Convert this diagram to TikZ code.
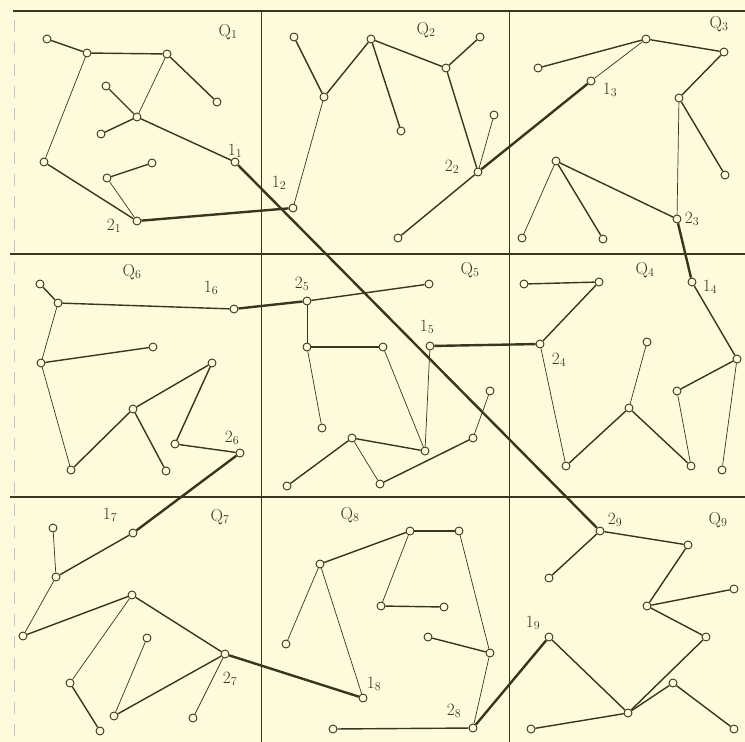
\documentclass[tikz,border=0pt]{standalone}
\definecolor{paper}{HTML}{FDFBDC}
\definecolor{ink}{HTML}{3B3520}
\begin{document}
\begin{tikzpicture}[x=1pt,y=-1pt,
    dot/.style={circle,draw=ink,fill=paper,line width=0.9pt,inner sep=0pt,minimum size=8pt},
    light/.style={draw=ink,line width=0.7pt},
    mid/.style={draw=ink,line width=1.4pt},
    bridge/.style={draw=ink,line width=2.4pt},
    gridline/.style={draw=ink,line width=1.8pt},
    lbl/.style={text=ink,inner sep=0pt,font=\fontsize{17}{19}\selectfont}]
  \fill[paper] (0,0) rectangle (745,742);
  \useasboundingbox (0,0) rectangle (745,742);
  % cell borders
  \draw[gridline] (13,11) -- (745,11);
  \draw[gridline] (10,254) -- (745,254);
  \draw[gridline] (10,497) -- (745,497);
  \draw[draw=ink,line width=0.9pt] (261,11) -- (261,742);
  \draw[draw=ink,line width=0.9pt] (509,11) -- (509,742);
  \draw[draw=ink!30,line width=0.8pt,dash pattern=on 12pt off 10pt] (14,20) -- (14,742);
  % vertices
  \foreach \n/\x/\y in {a1/47/39, a2/87/53, a3/167/54, a4/217/102, a5/106/86, a6/137/117,
      a7/101/134, a8/44/162, a9/152/163, a10/107/178, one1/235/162, two1/137/221,
      b1/294/37, b2/371/39, b3/480/37, b4/446/68, b5/324/97, b6/401/131, b7/494/115,
      two2/478/172, one2/293/208, b8/398/238,
      c1/538/68, c2/646/39, c3/724/52, one3/591/81, c4/679/98, c5/725/175, c6/556/161,
      c7/522/238, c8/603/239, two3/677/219,
      f1/524/284, f2/599/282, two4/540/344, one4/692/282, f3/737/359, f4/647/342,
      f5/629/408, f6/566/466, f7/691/466, f8/677/391, f9/722/470,
      two5/307/301, e1/429/284, e2/307/347, e3/383/347, e4/322/428, one5/430/346,
      e5/425/451, e6/352/438, e7/287/486, e8/380/484, e9/473/438, e10/490/391,
      d1/40/284, d2/58/303, one6/234/309, d3/41/363, d4/153/347, d5/212/363,
      d6/133/409, d7/71/470, d8/166/471, d9/175/444, two6/240/453,
      g1/53/528, one7/133/533, g2/56/577, g3/23/636, g4/132/595, two7/225/654,
      g5/147/638, g6/70/683, g7/100/731, g8/114/716, g9/193/718,
      h1/320/564, h2/410/531, h3/459/531, h4/286/644, h5/381/606, h6/444/607,
      h7/428/637, h8/490/653, one8/363/698, two8/473/728, h9/333/729,
      two9/600/531, i1/688/545, i2/549/578, i3/647/606, i4/734/589, i5/706/637,
      one9/549/637, i6/628/713, i7/673/683, i8/734/729, i9/531/729}
    \node[dot] (\n) at (\x,\y) {};
  % tree edges
  \foreach \u/\v in {a1/a2, a2/a3, a3/a4, a5/a6, a6/a7, a6/one1, a8/two1, a9/a10,
      b1/b5, b5/b2, b2/b6, b2/b4, b4/b3, b4/two2, b8/two2,
      c1/c2, c2/c3, c3/c4, c4/c5, c6/c8, c6/two3,
      f1/f2, f2/two4, f6/f5, f5/f7, f8/f3, f3/one4,
      two5/e1, e2/e3, e6/e5, e6/e7, e8/e9,
      d1/d2, d2/one6, d3/d4, d7/d6, d6/d5, d6/d8, d5/d9, d9/two6,
      g2/one7, g3/g4, g4/two7, g6/g7, g8/two7,
      h1/h2, h2/h3, h5/h6, h7/h8, h9/two8,
      two9/i1, two9/i2, i1/i3, i3/i4, i3/i5, i5/i6, i6/one9, i6/i7, i7/i8, i6/i9}
    \draw[mid] (\u) -- (\v);
  \foreach \u/\v in {a3/a6, a2/a8, a10/two1, b7/two2, b5/one2, c2/one3, c4/two3, c6/c7,
      two4/f6, f5/f4, f7/f8, f3/f9, two5/e2, e2/e4, e3/e5, one5/e5, e6/e8, e9/e10,
      d2/d3, d3/d7, g1/g2, g2/g3, g4/g6, g5/g8, two7/g9,
      h2/h5, h3/h8, h8/two8, h1/h4, h1/one8}
    \draw[light] (\u) -- (\v);
  % joining edges between cells
  \foreach \u/\v in {two1/one2, one1/two9, two2/one3, two3/one4, one5/two4,
      one6/two5, two6/one7, two7/one8, two8/one9}
    \draw[bridge] (\u) -- (\v);
  % labels
  \foreach \n/\x/\y/\t in {lq1/228/32/\mathrm{Q}_1, lq2/426/30/\mathrm{Q}_2, lq3/719/24/\mathrm{Q}_3,
      lq4/645/270/\mathrm{Q}_4, lq5/470/270/\mathrm{Q}_5, lq6/132/272/\mathrm{Q}_6,
      lq7/220/517/\mathrm{Q}_7, lq8/350/515/\mathrm{Q}_8, lq9/718/520/\mathrm{Q}_9,
      l11/235/151/1_1, l21/114/226/2_1, l12/279/183/1_2, l22/452/167/2_2,
      l13/610/90/1_3, l23/692/219/2_3, l14/710/287/1_4, l24/559/360/2_4,
      l15/427/327/1_5, l25/302/284/2_5, l16/211/288/1_6, l26/232/438/2_6,
      l17/110/515/1_7, l27/230/679/2_7, l18/374/684/1_8, l28/454/711/2_8,
      l19/533/623/1_9, l29/615/520/2_9}
    \node[lbl] (\n) at (\x,\y) {$\t$};
\end{tikzpicture}
\end{document}
